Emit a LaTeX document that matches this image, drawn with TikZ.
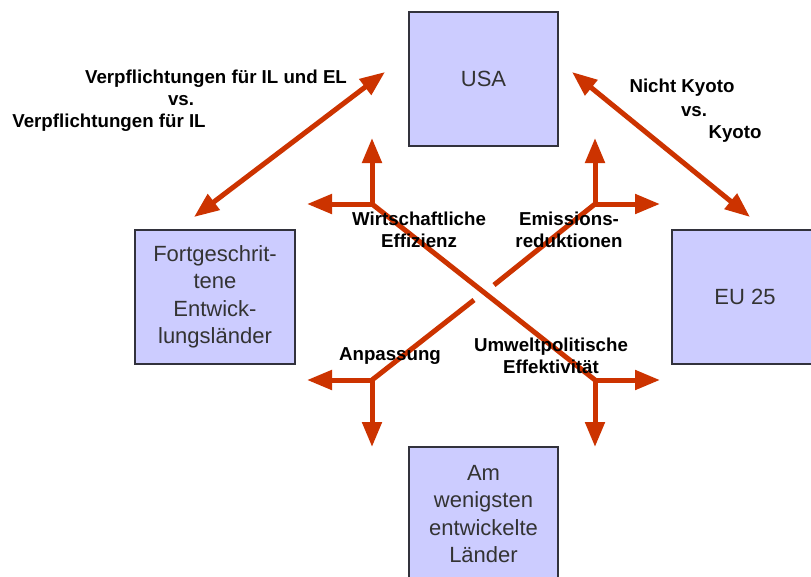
\documentclass[tikz,border=0pt]{standalone}
\usepackage{fontspec}
\setmainfont{Liberation Sans}
\usetikzlibrary{arrows.meta}
\definecolor{arr}{RGB}{204,51,0}
\definecolor{boxfill}{RGB}{204,204,255}
\definecolor{boxline}{RGB}{50,50,60}
\begin{document}
\begin{tikzpicture}[x=1pt,y=-1pt,
  box/.style={draw=boxline, line width=1.5pt, fill=boxfill, minimum width=149pt, minimum height=134pt, inner sep=0pt, align=center, text=black!80, font=\fontsize{22}{27.5}\selectfont},
  lbl/.style={font=\bfseries\fontsize{18.7}{22.4}\selectfont, inner sep=0pt, align=center},
  arrowline/.style={draw=arr, line width=5pt},
  tipone/.style={arrowline, -{Triangle[length=25pt,width=19pt]}},
  tiptwo/.style={arrowline, {Triangle[length=25pt,width=19pt]}-{Triangle[length=25pt,width=19pt]}}
]
\useasboundingbox[fill=white] (0,0) rectangle (811,576);

% boxes
\node[box] (usa) at (483.5,79) {USA};
\node[box, minimum width=160pt] (fe) at (215,297) {Fortgeschrit-\\tene\\Entwick-\\lungsländer};
\node[box, minimum width=146pt] (eu) at (745,297) {EU 25};
\node[box] (ldc) at (483.5,514) {Am\\wenigsten\\entwickelte\\Länder};

% diagonal double arrows
\coordinate (lt) at (385,72);
\coordinate (lb) at (194,217);
\coordinate (rt) at (572,72);
\coordinate (rb) at (750,217);
\draw[tiptwo] (lb) -- (lt);
\draw[tiptwo] (rt) -- (rb);

% hubs
\coordinate (ul) at (372,204);
\coordinate (ur) at (595,204);
\coordinate (ll) at (372,380);
\coordinate (lr) at (595,380);
\coordinate (gapa) at (494,285);
\coordinate (gapb) at (474,300);

% arrow tips
\coordinate (ulU) at (372,138);
\coordinate (ulL) at (307,204);
\coordinate (urU) at (595,138);
\coordinate (urR) at (660,204);
\coordinate (llL) at (307,380);
\coordinate (llD) at (372,447);
\coordinate (lrR) at (660,380);
\coordinate (lrD) at (595,447);

% crossing lines
\draw[arrowline] (ul) -- (lr);
\draw[arrowline] (ur) -- (gapa);
\draw[arrowline] (gapb) -- (ll);

% orthogonal arrows
\draw[tipone] (ul) -- (ulU);
\draw[tipone] (ul) -- (ulL);
\draw[tipone] (ur) -- (urU);
\draw[tipone] (ur) -- (urR);
\draw[tipone] (ll) -- (llL);
\draw[tipone] (ll) -- (llD);
\draw[tipone] (lr) -- (lrR);
\draw[tipone] (lr) -- (lrD);

% labels
\node[lbl] (v1) at (216,79) {Verpflichtungen für IL und EL};
\node[lbl] (v2) at (181,101) {vs.};
\node[lbl] (v3) at (109,123) {Verpflichtungen für IL};
\node[lbl] (k1) at (682,88) {Nicht Kyoto};
\node[lbl] (k2) at (694,112) {vs.};
\node[lbl] (k3) at (735,134) {Kyoto};
\node[lbl] (we) at (419,230) {Wirtschaftliche\\Effizienz};
\node[lbl] (em) at (569,230) {Emissions-\\reduktionen};
\node[lbl] (an) at (390,356) {Anpassung};
\node[lbl] (ue) at (551,356) {Umweltpolitische\\Effektivität};
\end{tikzpicture}
\end{document}
